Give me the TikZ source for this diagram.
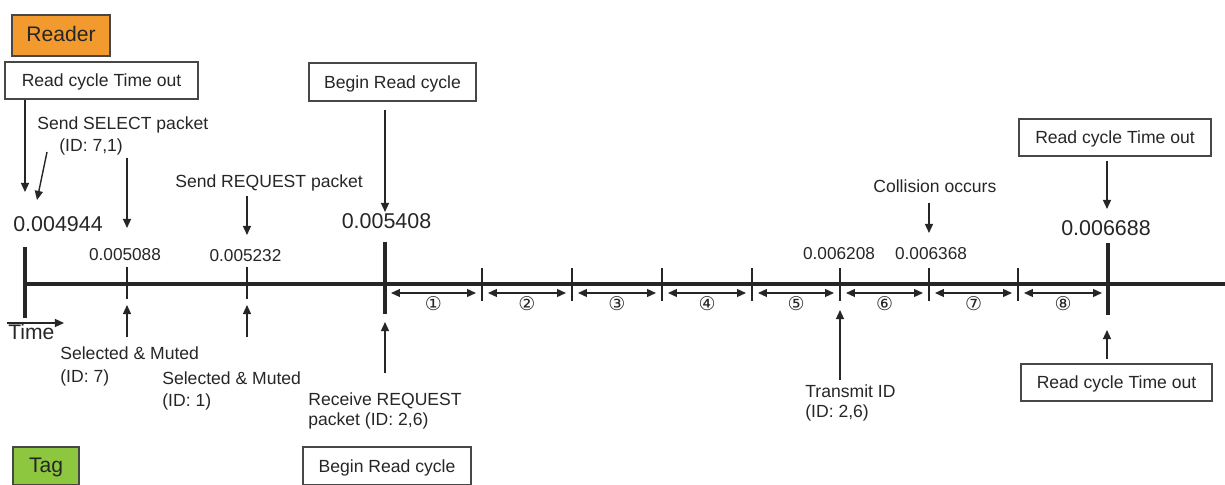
\documentclass[tikz,border=0pt]{standalone}
\usepackage{fontspec}
\setmainfont{Liberation Sans}
\newfontfamily\circfont{DejaVu Sans}
\usetikzlibrary{arrows.meta,calc}
\definecolor{readerorange}{HTML}{F39A2E}
\definecolor{taggreen}{HTML}{8DC63F}
\definecolor{ink}{HTML}{262626}
\begin{document}
\begin{tikzpicture}[x=0.02cm,y=-0.02cm,
  every node/.style={text=ink},
  lbl/.style={inner sep=0pt, text height=0.716em, text depth=0pt, font=\fontsize{10}{12}\selectfont},
  valsmall/.style={inner sep=0pt, text height=0.716em, text depth=0pt, font=\fontsize{9.8}{12}\selectfont},
  valbig/.style={inner sep=0pt, text height=0.716em, text depth=0pt, font=\fontsize{12.2}{14}\selectfont},
  evbox/.style={draw=ink!85, line width=0.6pt, fill=white, inner sep=0pt, font=\fontsize{10}{12}\selectfont, text height=0.716em, text depth=0pt},
  rolebox/.style={draw=ink!85, line width=0.7pt, inner sep=0pt, font=\fontsize{12}{14}\selectfont, text height=0.716em, text depth=0pt},
  arr/.style={-{Triangle[length=5.2pt,width=4.6pt]}, line width=0.8pt, draw=ink},
  darr/.style={{Triangle[length=5pt,width=4.4pt]}-{Triangle[length=5pt,width=4.4pt]}, line width=0.85pt, draw=ink},
  major/.style={line width=1.9pt, draw=ink},
  minor/.style={line width=0.8pt, draw=ink},
  timeline/.style={line width=1.9pt, draw=ink},
  seg/.style={inner sep=0pt, font=\circfont\fontsize{10.8}{12}\selectfont}
]
\useasboundingbox (0,0) rectangle (1225,484);

% ---- role boxes
\node[rolebox, fill=readerorange, minimum width=1.96cm, minimum height=0.82cm] (reader) at (61,35.5) {Reader};
\node[rolebox, fill=taggreen, minimum width=1.32cm, minimum height=0.76cm] (tag) at (46,466) {Tag};

% ---- event boxes
\node[evbox, minimum width=3.86cm, minimum height=0.74cm] (rct1) at (101.5,80.5) {Read cycle Time out};
\node[evbox, minimum width=3.34cm, minimum height=0.76cm] (brc1) at (392.5,82) {Begin Read cycle};
\node[evbox, minimum width=3.84cm, minimum height=0.74cm] (rct2) at (1115,137.5) {Read cycle Time out};
\node[evbox, minimum width=3.82cm, minimum height=0.74cm] (rct3) at (1116.5,382.5) {Read cycle Time out};
\node[evbox, minimum width=3.36cm, minimum height=0.76cm] (brc2) at (387,466) {Begin Read cycle};

% ---- timeline coordinates
\coordinate (t0) at (25,284);
\coordinate (t1) at (127,284);
\coordinate (t2) at (247,284);
\coordinate (s0) at (385,284);
\coordinate (s1) at (482,284);
\coordinate (s2) at (572,284);
\coordinate (s3) at (662,284);
\coordinate (s4) at (752,284);
\coordinate (s5) at (840,284);
\coordinate (s6) at (929,284);
\coordinate (s7) at (1018,284);
\coordinate (s8) at (1108,284);
\coordinate (tend) at (1225,284);

\draw[timeline] (t0) -- (tend);
\draw[major] ($(t0)+(0,-37)$) -- ($(t0)+(0,34)$);
\draw[major] ($(s0)+(0,-42)$) -- ($(s0)+(0,30)$);
\draw[major] ($(s8)+(0,-41)$) -- ($(s8)+(0,31)$);
\draw[minor] ($(t1)+(0,-17)$) -- ($(t1)+(0,15)$);
\draw[minor] ($(t2)+(0,-17)$) -- ($(t2)+(0,15)$);
\foreach \s in {s1,s2,s3,s4,s5,s6,s7}
  \draw[minor] ($(\s)+(0,-16)$) -- ($(\s)+(0,17)$);

% ---- segments
\foreach \a/\b/\n in {s0/s1/①,s1/s2/②,s2/s3/③,s3/s4/④,s4/s5/⑤,s5/s6/⑥,s6/s7/⑦,s7/s8/⑧}{
  \draw[darr] ($(\a)+(6,9)$) -- ($(\b)+(-6,9)$);
  \node[seg] at ($(\a)!0.5!(\b)+(0,20)$) {\n};
}

% ---- values
\node[valbig]   (v0) at (58,225.5) {0.004944};
\node[valsmall] (v1) at (125,254.5) {0.005088};
\node[valsmall] (v2) at (245.5,255.5) {0.005232};
\node[valbig]   (v3) at (386.5,222.5) {0.005408};
\node[valsmall] (v4) at (839,253.5) {0.006208};
\node[valsmall] (v5) at (931,253.5) {0.006368};
\node[valbig]   (v6) at (1106,229.5) {0.006688};

% ---- reader-side labels
\node[lbl, anchor=west] (sel) at (37,123.5) {Send SELECT packet};
\node[lbl, anchor=west] (selid) at (59,145) {(ID: 7,1)};
\node[lbl, anchor=west] (req) at (175,181) {Send REQUEST packet};
\node[lbl, anchor=west] (col) at (873,186) {Collision occurs};

% ---- tag-side labels
\node[lbl, anchor=west] (sm1) at (60,353.5) {Selected \& Muted};
\node[lbl, anchor=west] (sm1id) at (60,376) {(ID: 7)};
\node[lbl, anchor=west] (sm2) at (162,378.5) {Selected \& Muted};
\node[lbl, anchor=west] (sm2id) at (162,400) {(ID: 1)};
\node[lbl, anchor=west] (rr) at (308,399) {Receive REQUEST};
\node[lbl, anchor=west] (rrid) at (308,419) {packet (ID: 2,6)};
\node[lbl, anchor=west] (tx) at (805,391) {Transmit ID};
\node[lbl, anchor=west] (txid) at (805,411) {(ID: 2,6)};
\node[inner sep=0pt, text height=0.716em, text depth=0pt, font=\fontsize{12}{14}\selectfont, anchor=west] (time) at (8,333.5) {Time};

% ---- arrow end points
\coordinate (a1e) at (25,192);
\coordinate (a2s) at (47,152);
\coordinate (a2e) at (37,200);
\coordinate (a3s) at (127,158);
\coordinate (a3e) at (127,228);
\coordinate (a4s) at (247,196);
\coordinate (a4e) at (247,235);
\coordinate (a5s) at (385,110);
\coordinate (a5e) at (385,212);
\coordinate (a6s) at (929,203);
\coordinate (a6e) at (929,233);
\coordinate (a7e) at (1107,209);
\coordinate (u1s) at (127,337);
\coordinate (u1e) at (127,305);
\coordinate (u2s) at (247,337);
\coordinate (u2e) at (247,305);
\coordinate (u3s) at (385,373);
\coordinate (u3e) at (385,322);
\coordinate (u4s) at (840,380);
\coordinate (u4e) at (840,310);
\coordinate (u5e) at (1107,330);
\coordinate (tms) at (7,323);
\coordinate (tme) at (64,323);

% ---- arrows
\draw[arr] (rct1.south -| a1e) -- (a1e);
\draw[arr] (a2s) -- (a2e);
\draw[arr] (a3s) -- (a3e);
\draw[arr] (a4s) -- (a4e);
\draw[arr] (a5s) -- (a5e);
\draw[arr] (a6s) -- (a6e);
\draw[arr] ($(rct2.south -| a7e)+(0,4)$) -- (a7e);
\draw[arr] (u1s) -- (u1e);
\draw[arr] (u2s) -- (u2e);
\draw[arr] (u3s) -- (u3e);
\draw[arr] (u4s) -- (u4e);
\draw[arr] ($(rct3.north -| u5e)+(0,-4)$) -- (u5e);
\draw[arr] (tms) -- (tme);
\end{tikzpicture}
\end{document}
